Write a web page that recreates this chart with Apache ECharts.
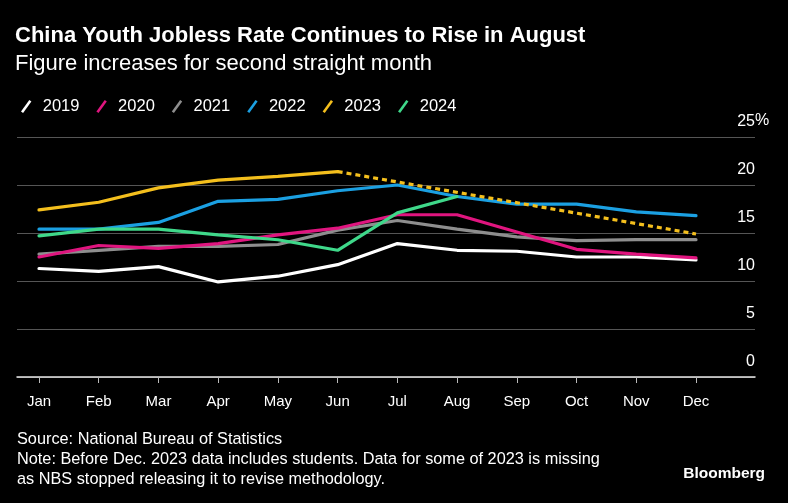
<!DOCTYPE html>
<html>
<head>
<meta charset="utf-8">
<script src="https://cdn.jsdelivr.net/npm/echarts@6/dist/echarts.min.js"></script>
<style>
html,body{margin:0;padding:0;background:#000;}
#chart{width:788px;height:503px;}
</style>
</head>
<body>
<div id="chart"></div>
<script>
const months = ['Jan','Feb','Mar','Apr','May','Jun','Jul','Aug','Sep','Oct','Nov','Dec'];
const yTicks = [0, 5, 10, 15, 20, 25];
const y2019 = [11.3, 11.0, 11.5, 9.9, 10.5, 11.7, 13.9, 13.2, 13.1, 12.5, 12.5, 12.2];
const y2020 = [12.5, 13.7, 13.4, 13.9, 14.8, 15.5, 16.9, 16.9, 15.1, 13.3, 12.8, 12.4];
const y2021 = [12.8, 13.2, 13.6, 13.6, 13.8, 15.3, 16.3, 15.4, 14.6, 14.2, 14.3, 14.3];
const y2022 = [15.4, 15.4, 16.1, 18.3, 18.5, 19.4, 20.0, 18.8, 18.0, 18.0, 17.2, 16.8];
const y2023 = [17.4, 18.2, 19.7, 20.5, 20.9, 21.4, null, null, null, null, null, null];
const y2023gap = [null, null, null, null, null, 21.4, null, null, null, null, null, 14.9];
const y2024 = [14.7, 15.4, 15.4, 14.8, 14.3, 13.2, 17.1, 18.8, null, null, null, null];

const colors = {
  '2019': '#ffffff', '2020': '#e0157f', '2021': '#8e8e8e',
  '2022': '#1ba0e2', '2023': '#f4bf1d', '2024': '#3fd88a'
};
const FONT = 'Liberation Sans, Arial, sans-serif';
const chart = echarts.init(document.getElementById('chart'));

const icon = 'path://M0,11 L8,0 L10,1.5 L2,12.5 Z';

function line(name, data, extra) {
  return Object.assign({
    name: name, type: 'line', xAxisIndex: 1, yAxisIndex: 1,
    data: data, symbol: 'none', smooth: false,
    lineStyle: { color: colors[name], width: 3.2, cap: 'round' },
    itemStyle: { color: colors[name] }
  }, extra || {});
}

chart.setOption({
  backgroundColor: '#000',
  animation: false,
  textStyle: { fontFamily: FONT },
  legend: {
    left: 16, top: 93, itemWidth: 11, itemHeight: 13, itemGap: 17,
    icon: icon,
    data: ['2019','2020','2021','2022','2023','2024'].map(n => ({ name: n, itemStyle: { color: colors[n] } })),
    textStyle: { color: '#fff', fontSize: 16.5, fontFamily: FONT, padding: [0, 0, 0, 6] }
  },
  grid: [
    { left: 17, right: 33, top: 137, bottom: 126 },
    { left: 39, right: 92, top: 137, bottom: 126 }
  ],
  xAxis: [
    { gridIndex: 0, type: 'value', min: 0, max: 1, show: true,
      axisLine: { show: true, onZero: false, lineStyle: { color: '#e6e6e6', width: 1.5 } },
      axisTick: { show: false }, axisLabel: { show: false }, splitLine: { show: false } },
    { gridIndex: 1, type: 'category', data: months, boundaryGap: false,
      axisLine: { show: false },
      axisTick: { show: true, length: 6, lineStyle: { color: '#bbb' } },
      axisLabel: { color: '#fff', fontSize: 15, margin: 17, fontFamily: FONT } }
  ],
  yAxis: [
    { gridIndex: 0, type: 'value', min: 0, max: 25, interval: 5, position: 'right',
      axisLine: { show: false }, axisTick: { show: false },
      splitLine: { lineStyle: { color: '#555', width: 1 } },
      axisLabel: { inside: true, margin: 0, color: '#fff', fontSize: 16, fontFamily: FONT,
        verticalAlign: 'bottom', padding: [0, 0, 7, 0], align: 'right',
        formatter: v => yTicks.includes(v) ? String(v) : '' } },
    { gridIndex: 1, type: 'value', min: 0, max: 25, interval: 5, show: false,
      splitLine: { show: false } }
  ],
  series: [
    line('2019', y2019),
    line('2021', y2021),
    line('2020', y2020),
    line('2022', y2022),
    line('2023', y2023),
    line('2023', y2023gap, { connectNulls: true, lineStyle: { color: colors['2023'], width: 3.2, type: [5, 4] } }),
    line('2024', y2024)
  ],
  graphic: [
    { type: 'text', left: 15, top: 25, style: { text: 'China Youth Jobless Rate Continues to Rise in August', fill: '#fff', font: 'bold 22px ' + FONT } },
    { type: 'text', left: 15, top: 53, style: { text: 'Figure increases for second straight month', fill: '#fff', font: '22px ' + FONT } },
    { type: 'text', left: 755, top: 113, style: { text: '%', fill: '#fff', font: '16px ' + FONT } },
    { type: 'text', left: 17, top: 432, style: { text: 'Source: National Bureau of Statistics', fill: '#fff', font: '16.3px ' + FONT } },
    { type: 'text', left: 17, top: 452, style: { text: 'Note: Before Dec. 2023 data includes students. Data for some of 2023 is missing', fill: '#fff', font: '16.3px ' + FONT } },
    { type: 'text', left: 17, top: 472, style: { text: 'as NBS stopped releasing it to revise methodology.', fill: '#fff', font: '16.3px ' + FONT } },
    { type: 'text', right: 23, top: 466, style: { text: 'Bloomberg', fill: '#fff', font: 'bold 15.5px ' + FONT } }
  ]
});
</script>
</body>
</html>
